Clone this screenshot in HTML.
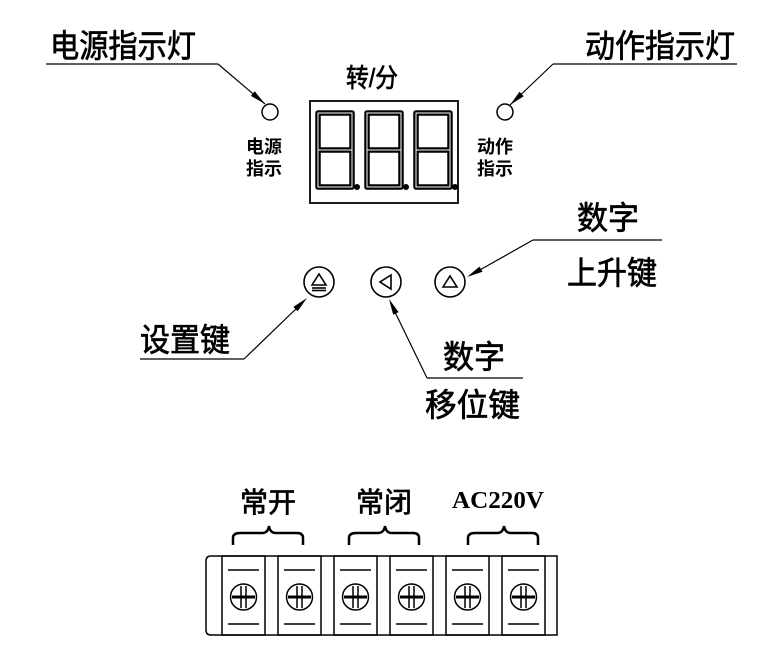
<!DOCTYPE html>
<html><head><meta charset="utf-8"><style>
html,body{margin:0;padding:0;background:#fff;width:767px;height:651px;overflow:hidden}
text{font-family:"Liberation Sans","Noto Sans CJK SC",sans-serif;fill:#000}
.t{stroke:#000;stroke-width:0.7}
</style></head><body>
<svg width="767" height="651" viewBox="0 0 767 651" xmlns="http://www.w3.org/2000/svg">
<g font-size="32" class="t">
<text x="50" y="57" textLength="146" lengthAdjust="spacingAndGlyphs">电源指示灯</text>
<text x="585" y="57" textLength="150" lengthAdjust="spacingAndGlyphs">动作指示灯</text>
</g>
<g stroke="#000" fill="none" stroke-width="1.2">
<line x1="46" y1="64" x2="218" y2="64"/>
<line x1="218" y1="64" x2="265" y2="104"/>
<line x1="553" y1="64" x2="737" y2="64"/>
<line x1="553" y1="64" x2="510" y2="105"/>
<circle cx="270" cy="112" r="8" stroke-width="1.5"/>
<circle cx="505" cy="112" r="8" stroke-width="1.5"/>
<rect x="310" y="101" width="148" height="102" stroke-width="1.8"/>
</g>
<g fill="#000">
<polygon points="265,104 254.7,91.3 250.9,95.9"/>
<polygon points="510,105 523.7,96.2 519.5,91.8"/>
<polygon points="307,298 297.6,311.3 293.4,306.9"/>
<polygon points="389,299 398.6,312.1 393.2,314.7"/>
<polygon points="467,277 482.5,271.8 479.5,266.6"/>
</g>
<text x="346" y="87" font-size="26" class="t" textLength="52" lengthAdjust="spacingAndGlyphs">转/分</text>
<g font-size="18" font-weight="bold">
<text x="246" y="153">电源</text><text x="246" y="175">指示</text>
<text x="477" y="153">动作</text><text x="477" y="175">指示</text>
</g>
<!-- digits -->
<g fill="none" stroke="#000" stroke-width="5.5" stroke-linejoin="round">
<rect x="318" y="113" width="34" height="74"/><line x1="318" y1="150" x2="352" y2="150"/>
<rect x="367" y="113" width="34" height="74"/><line x1="367" y1="150" x2="401" y2="150"/>
<rect x="416" y="113" width="34" height="74"/><line x1="416" y1="150" x2="450" y2="150"/>
</g>
<g stroke="#fff" stroke-width="1">
<rect x="318" y="113" width="34" height="74" fill="none"/><line x1="318" y1="150" x2="352" y2="150"/>
<rect x="367" y="113" width="34" height="74" fill="none"/><line x1="367" y1="150" x2="401" y2="150"/>
<rect x="416" y="113" width="34" height="74" fill="none"/><line x1="416" y1="150" x2="450" y2="150"/>
</g>
<circle cx="357" cy="187" r="3"/><circle cx="406" cy="187" r="3"/><circle cx="455" cy="187" r="3"/>
<!-- buttons -->
<g stroke="#000" fill="none" stroke-width="1.6">
<circle cx="319" cy="282" r="15"/>
<path d="M312,285 L319,274 L326,285 Z"/><line x1="312" y1="288" x2="326" y2="288"/><line x1="312" y1="290.5" x2="326" y2="290.5"/>
<circle cx="386" cy="282" r="15"/>
<path d="M391,275 L380,282 L391,289 Z"/>
<circle cx="450" cy="282" r="15"/>
<path d="M443,287 L450,276 L457,287 Z"/>
</g>
<g stroke="#000" fill="none" stroke-width="1.2">
<line x1="140" y1="359" x2="244" y2="359"/>
<line x1="244" y1="359" x2="300" y2="305"/>
<line x1="427" y1="378" x2="523" y2="378"/>
<line x1="427" y1="378" x2="394" y2="310"/>
<line x1="533" y1="240" x2="662" y2="240"/>
<line x1="533" y1="240" x2="478" y2="271"/>
</g>
<g font-size="32" class="t">
<text x="140" y="351" textLength="90" lengthAdjust="spacingAndGlyphs">设置键</text>
<text x="443" y="368" textLength="62" lengthAdjust="spacingAndGlyphs">数字</text>
<text x="425" y="416" textLength="95" lengthAdjust="spacingAndGlyphs">移位键</text>
<text x="577" y="229" textLength="62" lengthAdjust="spacingAndGlyphs">数字</text>
<text x="567" y="284" textLength="90" lengthAdjust="spacingAndGlyphs">上升键</text>
</g>
<!-- terminal -->
<g font-size="28" class="t">
<text x="240" y="512" textLength="56" lengthAdjust="spacingAndGlyphs">常开</text>
<text x="356" y="512" textLength="56" lengthAdjust="spacingAndGlyphs">常闭</text>
</g>
<text x="452" y="508" style="font-family:'Liberation Serif',serif;font-weight:bold" font-size="24" textLength="92" lengthAdjust="spacingAndGlyphs">AC220V</text>
<g stroke="#000" fill="none" stroke-width="2.5">
<path d="M233,545 L233,538 Q233,533 240,533 L262,533 Q268,533 269,526 Q270,533 276,533 L297,533 Q303,533 303,538 L303,545"/>
<path d="M349,545 L349,538 Q349,533 356,533 L378,533 Q384,533 385,526 Q386,533 392,533 L413,533 Q419,533 419,538 L419,545"/>
<path d="M468,545 L468,538 Q468,533 475,533 L497,533 Q503,533 504,526 Q505,533 511,533 L532,533 Q538,533 538,538 L538,545"/>
</g>
<g stroke="#000" fill="none" stroke-width="1.5">
<path d="M211,556 L557,556 L557,635 L211,635 Q206,635 206,630 L206,561 Q206,556 211,556"/>
<g id="c">
<rect x="222" y="556" width="43" height="79"/>
<line x1="228" y1="570" x2="259" y2="570"/>
<line x1="228" y1="624" x2="259" y2="624"/>
<circle cx="243.5" cy="597" r="13"/>
<line x1="232" y1="597" x2="255" y2="597" stroke-width="3"/>
<line x1="241" y1="586" x2="241" y2="608"/><line x1="246" y1="586" x2="246" y2="608"/>
</g>
<use href="#c" x="56"/><use href="#c" x="112"/><use href="#c" x="168"/><use href="#c" x="224"/><use href="#c" x="280"/>
</g>
</svg>
</body></html>
